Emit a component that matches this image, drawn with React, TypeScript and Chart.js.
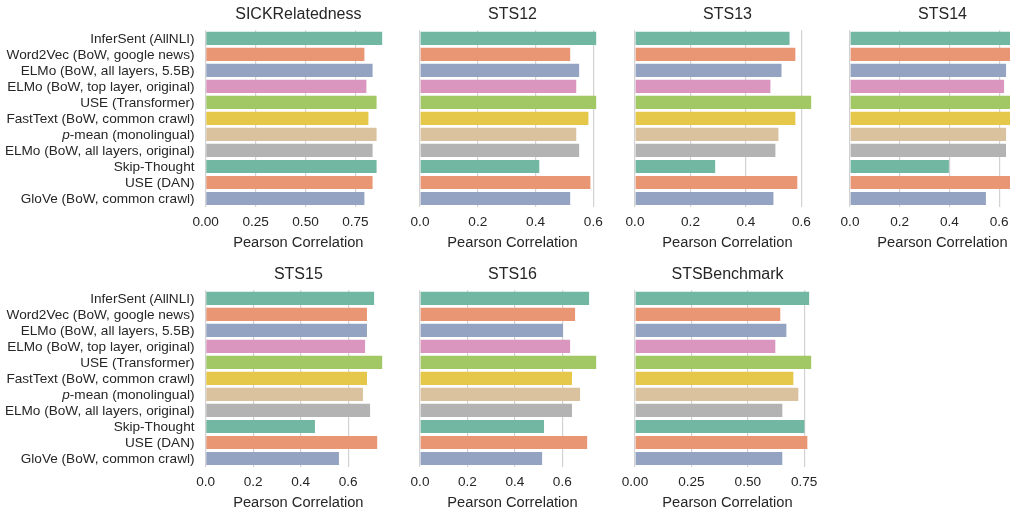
import React, { useEffect, useRef } from "react";
import { Chart, registerables } from "chart.js";

Chart.register(...registerables);

const categories = [
  "InferSent (AllNLI)",
  "Word2Vec (BoW, google news)",
  "ELMo (BoW, all layers, 5.5B)",
  "ELMo (BoW, top layer, original)",
  "USE (Transformer)",
  "FastText (BoW, common crawl)",
  "p-mean (monolingual)",
  "ELMo (BoW, all layers, original)",
  "Skip-Thought",
  "USE (DAN)",
  "GloVe (BoW, common crawl)",
];
// index of the label whose first letter is set in italics
const italicFirstLetterIndex = 6;

const sickRelatedness = [0.884, 0.795, 0.836, 0.805, 0.856, 0.815, 0.856, 0.836, 0.856, 0.836, 0.795];
const sts12 = [0.61, 0.52, 0.551, 0.541, 0.61, 0.583, 0.541, 0.551, 0.413, 0.59, 0.52];
const sts13 = [0.557, 0.578, 0.528, 0.488, 0.635, 0.578, 0.517, 0.506, 0.289, 0.585, 0.499];
const sts14 = [0.7, 0.66, 0.628, 0.62, 0.709, 0.68, 0.628, 0.628, 0.398, 0.69, 0.547];
const sts15 = [0.709, 0.679, 0.679, 0.671, 0.743, 0.679, 0.662, 0.692, 0.46, 0.722, 0.561];
const sts16 = [0.713, 0.654, 0.603, 0.633, 0.743, 0.641, 0.675, 0.641, 0.523, 0.705, 0.515];
const stsBenchmark = [0.772, 0.644, 0.671, 0.622, 0.781, 0.702, 0.724, 0.653, 0.751, 0.764, 0.653];

const ticksQuarter = [0, 0.25, 0.5, 0.75];
const ticksFifth = [0, 0.2, 0.4, 0.6];

const axisTitle = "Pearson Correlation";

const palette = ["#72b7a1", "#e99675", "#95a3c3", "#db96c0", "#a2c865", "#e5c849", "#dbc29e", "#b3b3b3"];

const panels = [
  { title: "SICKRelatedness", values: sickRelatedness, ticks: ticksQuarter, decimals: 2, row: 0, col: 0 },
  { title: "STS12", values: sts12, ticks: ticksFifth, decimals: 1, row: 0, col: 1 },
  { title: "STS13", values: sts13, ticks: ticksFifth, decimals: 1, row: 0, col: 2 },
  { title: "STS14", values: sts14, ticks: ticksFifth, decimals: 1, row: 0, col: 3 },
  { title: "STS15", values: sts15, ticks: ticksFifth, decimals: 1, row: 1, col: 0 },
  { title: "STS16", values: sts16, ticks: ticksFifth, decimals: 1, row: 1, col: 1 },
  { title: "STSBenchmark", values: stsBenchmark, ticks: ticksQuarter, decimals: 2, row: 1, col: 2 },
];

const FONT = '"Liberation Sans", Arial, Helvetica, sans-serif';
const TEXT = "#262626";
const LABEL_SIZE = 13.6;
const PLOT_W = 185;
const PLOT_H = 176.2;
const COL_LEFT = [205.7, 420.4, 635.1, 849.8];
const ROW_TOP = [0, 260];
const PAD_TOP = 30.3;
const CANVAS_H = 260;
const PAD_OTHER_LEFT = 28;
const PAD_RIGHT = 24;

type PanelDef = (typeof panels)[number];

function Panel({ p }: { p: PanelDef }) {
  const ref = useRef<HTMLCanvasElement | null>(null);
  const showLabels = p.col === 0;
  const padLeft = showLabels ? COL_LEFT[p.col] : PAD_OTHER_LEFT;
  const canvasLeft = COL_LEFT[p.col] - padLeft;
  const canvasW = Math.ceil(padLeft + PLOT_W + PAD_RIGHT);

  useEffect(() => {
    if (!ref.current) return;
    const xmax = Math.max(...p.values) * 1.05;
    const titlePlugin = {
      id: "panelDecor",
      afterDraw(chart: any) {
        const { ctx, chartArea } = chart;
        ctx.save();
        ctx.fillStyle = TEXT;
        ctx.font = `16px ${FONT}`;
        ctx.textAlign = "center";
        ctx.textBaseline = "middle";
        ctx.fillText(p.title, (chartArea.left + chartArea.right) / 2, chartArea.top - 15.6);
        if (showLabels) {
          const y = chart.scales.y;
          const x = chartArea.left - 11.2;
          ctx.textAlign = "right";
          categories.forEach((label, i) => {
            const py = y.getPixelForValue(i) + 0.8;
            if (i === italicFirstLetterIndex) {
              const rest = label.slice(1);
              ctx.font = `${LABEL_SIZE}px ${FONT}`;
              const w = ctx.measureText(rest).width;
              ctx.fillText(rest, x, py);
              ctx.font = `italic ${LABEL_SIZE}px ${FONT}`;
              ctx.fillText(label.slice(0, 1), x - w, py);
            } else {
              ctx.font = `${LABEL_SIZE}px ${FONT}`;
              ctx.fillText(label, x, py);
            }
          });
        }
        ctx.restore();
      },
    };

    const chart = new Chart(ref.current, {
      type: "bar",
      data: {
        labels: categories,
        datasets: [
          {
            data: p.values,
            backgroundColor: categories.map((_, i) => palette[i % palette.length]),
            borderWidth: 0,
            barPercentage: 0.82,
            categoryPercentage: 1,
          },
        ],
      },
      options: {
        indexAxis: "y",
        animation: false,
        responsive: false,
        devicePixelRatio: 1,
        layout: { padding: { left: padLeft, right: PAD_RIGHT, top: PAD_TOP, bottom: 0 } },
        plugins: { legend: { display: false }, tooltip: { enabled: false }, title: { display: false } },
        scales: {
          y: { type: "category", display: false, offset: true },
          x: {
            type: "linear",
            position: "bottom",
            min: 0,
            max: xmax,
            bounds: "data",
            grid: { color: "#d2d2d2", lineWidth: 1.2, drawTicks: false },
            border: { display: false },
            afterBuildTicks: (s: any) => {
              s.ticks = p.ticks.map((v) => ({ value: v }));
            },
            afterFit: (s: any) => {
              s.height = CANVAS_H - PAD_TOP - PLOT_H;
            },
            ticks: {
              padding: 7.2,
              color: TEXT,
              font: { family: FONT, size: LABEL_SIZE },
              maxRotation: 0,
              autoSkip: false,
              callback: (v: any) => Number(v).toFixed(p.decimals),
            },
            title: {
              display: true,
              text: axisTitle,
              color: TEXT,
              font: { family: FONT, size: 14.67 },
              padding: { top: 0, bottom: 7.8 },
            },
          },
        },
      } as any,
      plugins: [titlePlugin],
    });
    return () => chart.destroy();
  }, []);

  return (
    <canvas
      ref={ref}
      width={canvasW}
      height={CANVAS_H}
      style={{
        position: "absolute",
        left: canvasLeft,
        top: ROW_TOP[p.row],
        width: canvasW,
        height: CANVAS_H,
      }}
    />
  );
}

export default function App() {
  return (
    <div
      style={{
        position: "absolute",
        left: 0,
        top: 0,
        width: 1010,
        height: 508,
        overflow: "hidden",
        background: "#ffffff",
      }}
    >
      {panels.map((p) => (
        <Panel key={p.title} p={p} />
      ))}
    </div>
  );
}
